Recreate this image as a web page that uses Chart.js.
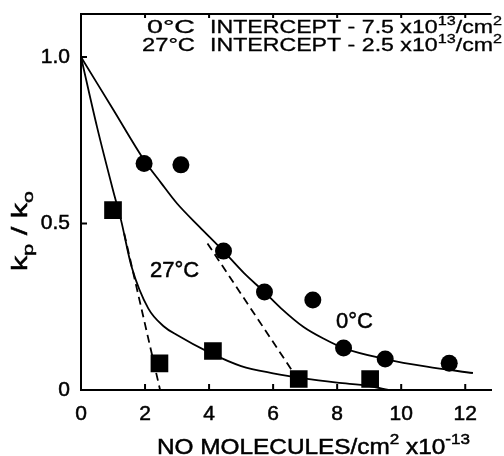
<!DOCTYPE html>
<html>
<head>
<meta charset="utf-8">
<script src="https://cdn.jsdelivr.net/npm/chart.js@4.4.0/dist/chart.umd.min.js"></script>
<style>
  html, body { margin: 0; padding: 0; background: #fff; }
  #wrap { width: 504px; height: 456px; }
</style>
</head>
<body>
<div id="wrap"><canvas id="chart" width="504" height="456"></canvas></div>
<script>
// Measured points
const circleX = [1.97, 3.12, 4.45, 5.73, 7.24, 8.2, 9.5, 11.5];
const circleY = [0.68, 0.676, 0.417, 0.294, 0.27, 0.126, 0.093, 0.08];
const squareX = [1.0, 2.45, 4.12, 6.8, 9.03];
const squareY = [0.54, 0.08, 0.117, 0.033, 0.033];

// Smooth curves
const curve0X = [0, 1, 2, 2.5, 3.0, 3.7, 4.42, 5.1, 5.73, 6.24, 6.94, 7.6, 8.2, 9.5, 10.8, 12.24];
const curve0Y = [1.0, 0.843, 0.686, 0.622, 0.56, 0.49, 0.42, 0.35, 0.294, 0.246, 0.19, 0.153, 0.126, 0.093, 0.07, 0.051];
const curve27X = [0, 0.5, 1.0, 1.25, 1.58, 2.1, 2.6, 3.0, 4.0, 5.0, 6.0, 7.0, 8.0, 9.0, 9.6];
const curve27Y = [1.0, 0.79, 0.6, 0.51, 0.37, 0.245, 0.19, 0.165, 0.113, 0.072, 0.05, 0.034, 0.022, 0.012, 0.0];

// Initial slope (dashed) lines
const dash0X = [3.95, 6.65];
const dash0Y = [0.44, 0.05];
const dash27X = [1.35, 2.47];
const dash27Y = [0.47, 0.0];

// Axes
const xTicks = [0, 2, 4, 6, 8, 10, 12];
const yTicks = [0, 0.5, 1.0];
const yTickLabels = ['0', '0.5', '1.0'];

const FONT = "'Liberation Sans', Arial, sans-serif";

function toPoints(xs, ys) {
  return xs.map((x, i) => ({ x, y: ys[i] }));
}

// text made of [text, 'sup'|'sub'|null] parts, left-aligned at x
function drawParts(ctx, parts, x, y, size) {
  let cx = x;
  parts.forEach(([t, kind]) => {
    const s = kind ? size * 0.7 : size;
    ctx.font = s + 'px ' + FONT;
    let dy = 0;
    if (kind === 'sup') dy = -size * 0.45;
    if (kind === 'sub') dy = size * 0.28;
    ctx.fillText(t, cx, y + dy);
    ctx.strokeText(t, cx, y + dy);
    cx += ctx.measureText(t).width;
  });
  return cx;
}

function partsWidth(ctx, parts, size) {
  let w = 0;
  parts.forEach(([t, kind]) => {
    ctx.font = (kind ? size * 0.7 : size) + 'px ' + FONT;
    w += ctx.measureText(t).width;
  });
  return w;
}

// the original lettering is wide, so stretch text to the measured span
function fitParts(ctx, parts, x, y, size, width) {
  const w = partsWidth(ctx, parts, size);
  ctx.save();
  ctx.translate(x, y);
  ctx.scale(width / w, 1);
  drawParts(ctx, parts, 0, 0, size);
  ctx.restore();
}

const decorations = {
  id: 'decorations',
  afterDraw(chart) {
    const ctx = chart.ctx;
    const area = chart.chartArea;
    const xs = chart.scales.x;
    const ys = chart.scales.y;
    ctx.save();
    ctx.strokeStyle = '#000';
    ctx.fillStyle = '#000';
    ctx.lineWidth = 2;

    // top frame line
    ctx.beginPath();
    ctx.moveTo(area.left, area.top);
    ctx.lineTo(area.right, area.top);
    ctx.stroke();

    // inward tick marks
    ctx.beginPath();
    xTicks.forEach(v => {
      const px = xs.getPixelForValue(v);
      ctx.moveTo(px, area.bottom);
      ctx.lineTo(px, area.bottom - 6);
      ctx.moveTo(px, area.top);
      ctx.lineTo(px, area.top + 4);
    });
    yTicks.forEach(v => {
      const py = ys.getPixelForValue(v);
      ctx.moveTo(area.left, py);
      ctx.lineTo(area.left + 6, py);
    });
    ctx.stroke();

    ctx.textBaseline = 'alphabetic';
    ctx.textAlign = 'left';

    // header
    ctx.lineWidth = 0.3;
    fitParts(ctx, [['0°C', null]], 147, 33, 18, 48);
    fitParts(ctx, [['27°C', null]], 142, 51, 18, 53);
    const h1 = [['INTERCEPT - 7.5 x10', null], ['13', 'sup'], ['/cm', null], ['2', 'sup']];
    const h2 = [['INTERCEPT - 2.5 x10', null], ['13', 'sup'], ['/cm', null], ['2', 'sup']];
    fitParts(ctx, h1, 210, 33, 18, 292);
    fitParts(ctx, h2, 210, 51, 18, 292);

    // curve labels
    ctx.lineWidth = 0.5;
    drawParts(ctx, [['27°C', null]], 150, 277, 22);
    drawParts(ctx, [['0°C', null]], 336, 328, 22);

    // x axis title
    const xt = [['NO MOLECULES/cm', null], ['2', 'sup'], [' x10', null], ['-13', 'sup']];
    fitParts(ctx, xt, 157, 454, 22, 313);

    // y axis title, rotated
    const yt = [['k', null], ['p', 'sub'], [' / k', null], ['o', 'sub']];
    ctx.translate(27, 231);
    ctx.rotate(-Math.PI / 2);
    fitParts(ctx, yt, -40, 0, 22, 80);

    ctx.restore();
  }
};

const curveStyle = {
  showLine: true,
  pointRadius: 0,
  borderColor: '#000',
  borderWidth: 1.8,
  fill: false,
  cubicInterpolationMode: 'monotone'
};

new Chart(document.getElementById('chart'), {
  type: 'scatter',
  data: {
    datasets: [
      Object.assign({ data: toPoints(curve0X, curve0Y) }, curveStyle),
      Object.assign({ data: toPoints(curve27X, curve27Y) }, curveStyle),
      Object.assign({ data: toPoints(dash0X, dash0Y), borderDash: [8, 5] }, curveStyle),
      Object.assign({ data: toPoints(dash27X, dash27Y), borderDash: [8, 5] }, curveStyle),
      {
        data: toPoints(circleX, circleY),
        pointStyle: 'circle',
        pointRadius: 8.5,
        backgroundColor: '#000',
        borderWidth: 0
      },
      {
        data: toPoints(squareX, squareY),
        pointStyle: 'rect',
        pointRadius: 12.5,
        backgroundColor: '#000',
        borderWidth: 0
      }
    ]
  },
  options: {
    responsive: false,
    animation: false,
    layout: { padding: { top: 14, left: 0, right: 0, bottom: 0 } },
    plugins: {
      legend: { display: false },
      tooltip: { enabled: false }
    },
    scales: {
      x: {
        type: 'linear',
        min: 0,
        max: 12.82,
        grid: { display: false },
        border: { display: true, color: '#000', width: 2 },
        afterBuildTicks: scale => { scale.ticks = xTicks.map(v => ({ value: v })); },
        afterFit: scale => {
          scale.height = 66;
          scale.paddingLeft = 0;
          scale.paddingRight = 0;
        },
        ticks: {
          color: '#000',
          padding: 4,
          maxRotation: 0,
          textStrokeColor: '#000',
          textStrokeWidth: 0.5,
          font: { family: FONT, size: 21 }
        }
      },
      y: {
        type: 'linear',
        min: 0,
        max: 1.129,
        grid: { display: false },
        border: { display: true, color: '#000', width: 2 },
        afterBuildTicks: scale => { scale.ticks = yTicks.map(v => ({ value: v })); },
        afterFit: scale => {
          scale.width = 81;
          scale.paddingTop = 0;
          scale.paddingBottom = 0;
        },
        ticks: {
          color: '#000',
          padding: 3,
          textStrokeColor: '#000',
          textStrokeWidth: 0.5,
          font: { family: FONT, size: 21 },
          callback: (v, i) => yTickLabels[i]
        }
      }
    }
  },
  plugins: [decorations]
});
</script>
</body>
</html>
